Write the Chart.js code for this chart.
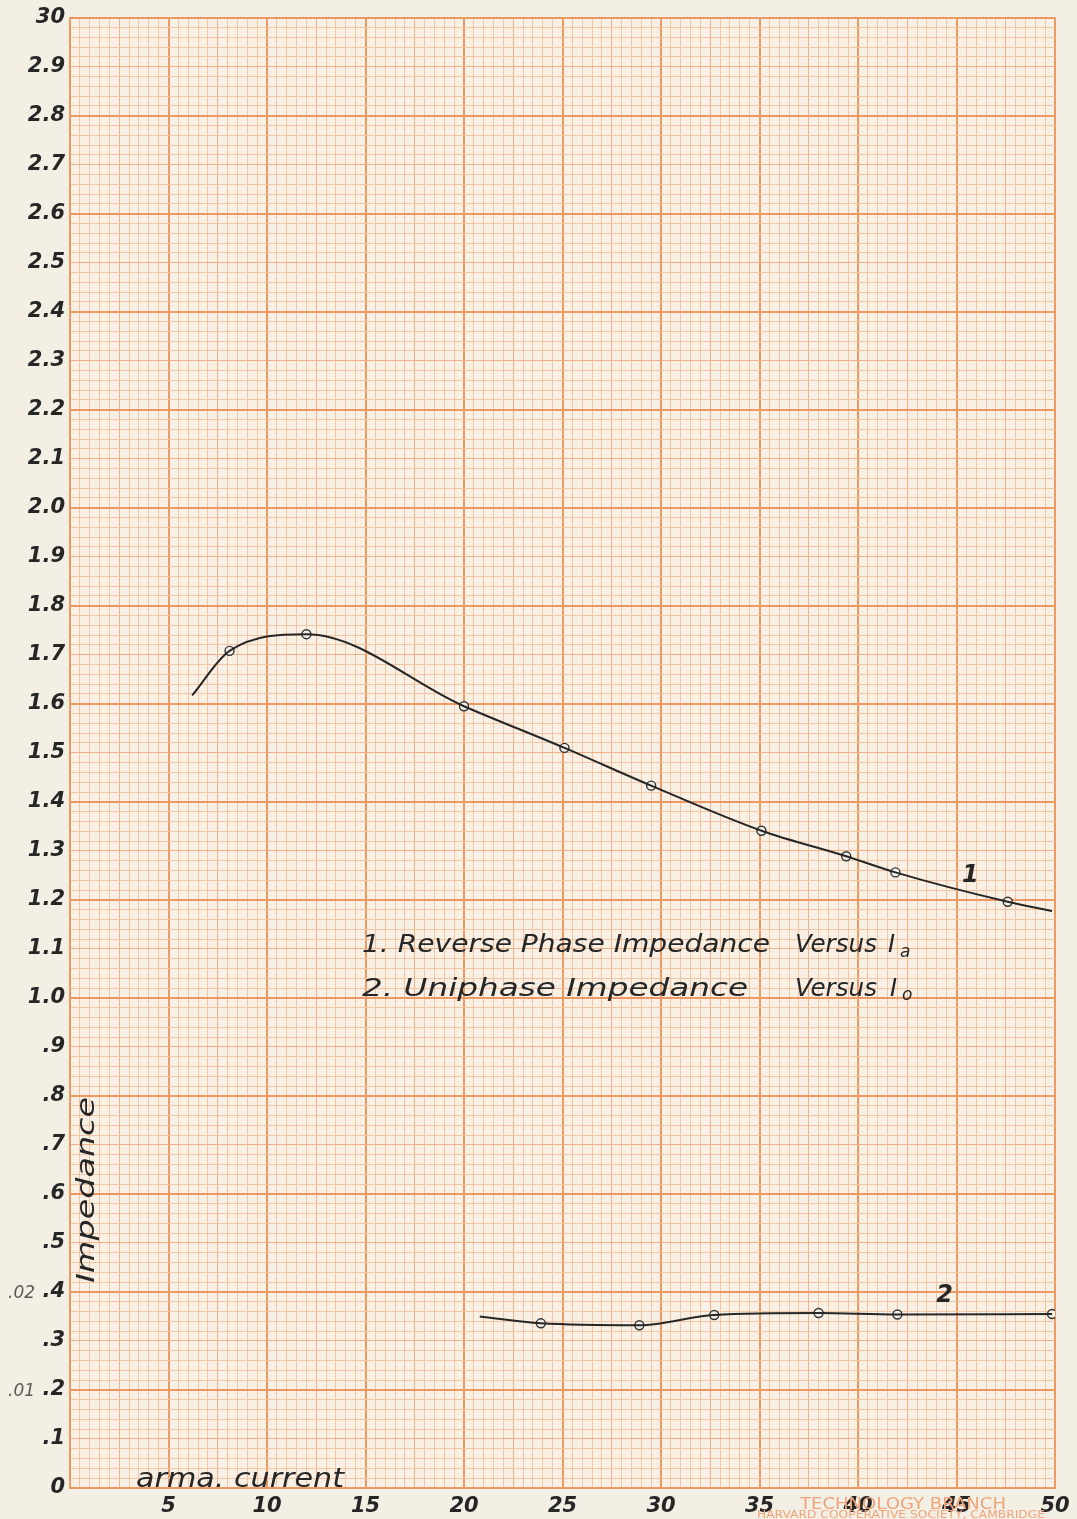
<!DOCTYPE html>
<html>
<head>
<meta charset="utf-8">
<script src="https://cdn.jsdelivr.net/npm/chart.js@4.4.1/dist/chart.umd.min.js"></script>
<style>
  html, body { margin: 0; padding: 0; background: #f3efe4; }
  canvas { display: block; }
</style>
</head>
<body>
<canvas id="c" width="1077" height="1519"></canvas>
<script>
// ---------- data ----------
// Curve 1: Reverse phase impedance vs Ia (measured points)
const curve1X = [8.1, 12.0, 20.0, 25.1, 29.5, 35.1, 39.4, 41.9, 47.6];
const curve1Y = [1.708, 1.742, 1.595, 1.510, 1.433, 1.341, 1.289, 1.256, 1.196];
// Ends of the drawn curve 1 (no marker)
const curve1EndsX = [6.2, 49.85];
const curve1EndsY = [1.617, 1.177];

// Curve 2: Uniphase impedance vs Io (measured points)
const curve2X = [23.9, 28.9, 32.7, 38.0, 42.0, 49.85];
const curve2Y = [0.336, 0.332, 0.353, 0.357, 0.354, 0.355];
// Start of the drawn curve 2 (no marker)
const curve2StartX = [20.8];
const curve2StartY = [0.350];

// Axis tick labels (as written on the sheet)
const xTickValues = [5, 10, 15, 20, 25, 30, 35, 40, 45, 50];
const xTickLabels = ['5', '10', '15', '20', '25', '30', '35', '40', '45', '50'];
const yTickLabels = ['0', '.1', '.2', '.3', '.4', '.5', '.6', '.7', '.8', '.9',
  '1.0', '1.1', '1.2', '1.3', '1.4', '1.5', '1.6', '1.7', '1.8', '1.9',
  '2.0', '2.1', '2.2', '2.3', '2.4', '2.5', '2.6', '2.7', '2.8', '2.9', '30'];
// Secondary scale marks written at the left of the y axis
const secondaryTickValues = [0.4, 0.2];
const secondaryTickLabels = ['.02', '.01'];

// Text
const legendLine1 = ['1. Reverse Phase Impedance', 'Versus', 'I', 'a'];
const legendLine2 = ['2. Uniphase Impedance', 'Versus', 'I', 'o'];
const curveLabels = [{ text: '1', x: 45.7, y: 1.25 }, { text: '2', x: 44.4, y: 0.392 }];
const yTitle = 'Impedance';
const xTitle = 'arma. current';

// ---------- build datasets ----------
function pts(xs, ys) { return xs.map((x, i) => ({ x: x, y: ys[i] })); }
const curve1Line = [].concat(
  pts([curve1EndsX[0]], [curve1EndsY[0]]),
  pts(curve1X, curve1Y),
  pts([curve1EndsX[1]], [curve1EndsY[1]])
);
const curve2Line = [].concat(pts(curve2StartX, curve2StartY), pts(curve2X, curve2Y));

const INK = '#262626';
const MINOR = '#f5c4a2';
const MEDIUM = '#f2b088';
const MAJOR = '#ec9964';
const FONT = '"DejaVu Sans", sans-serif';

const lineStyle = {
  type: 'line', showLine: true, borderColor: INK, borderWidth: 2,
  pointRadius: 0, cubicInterpolationMode: 'monotone', fill: false
};
const markerStyle = {
  type: 'scatter', showLine: false, pointRadius: 4.5, pointHoverRadius: 4.5,
  pointBackgroundColor: '#f2efe7', pointBorderColor: '#333', pointBorderWidth: 1.4
};

function fitText(ctx, text, x, y, width) {
  const w = ctx.measureText(text).width;
  ctx.save();
  ctx.translate(x, y);
  ctx.scale(width / w, 1);
  ctx.fillText(text, 0, 0);
  ctx.restore();
}

const paperPlugin = {
  id: 'paper',
  beforeDraw(chart) {
    const { ctx, chartArea: a } = chart;
    ctx.save();
    ctx.fillStyle = '#f3efe4';
    ctx.fillRect(0, 0, chart.width, chart.height);
    ctx.fillStyle = '#f8f0e4';
    ctx.fillRect(a.left, a.top, a.right - a.left, a.bottom - a.top);
    ctx.restore();
  },
  afterDraw(chart) {
    const { ctx, chartArea: a } = chart;
    const xs = chart.scales.x, ys = chart.scales.y;
    ctx.save();
    ctx.fillStyle = INK;
    ctx.textBaseline = 'alphabetic';
    ctx.textAlign = 'left';

    // legend notes
    ctx.font = 'italic 24px ' + FONT;
    fitText(ctx, legendLine1[0], 362, 952, 408);
    fitText(ctx, legendLine1[1], 795, 952, 82);
    ctx.fillText(legendLine1[2], 888, 952);
    ctx.font = 'italic 17px ' + FONT;
    ctx.fillText(legendLine1[3], 900, 957);
    ctx.font = 'italic 24px ' + FONT;
    fitText(ctx, legendLine2[0], 362, 996, 386);
    fitText(ctx, legendLine2[1], 795, 996, 82);
    ctx.fillText(legendLine2[2], 890, 996);
    ctx.font = 'italic 17px ' + FONT;
    ctx.fillText(legendLine2[3], 902, 1000);

    // curve labels
    ctx.font = 'italic bold 24px ' + FONT;
    ctx.textAlign = 'center';
    ctx.textBaseline = 'middle';
    curveLabels.forEach(l => ctx.fillText(l.text, xs.getPixelForValue(l.x), ys.getPixelForValue(l.y)));

    // y title (inside the grid)
    ctx.save();
    ctx.translate(a.left + 18, 1190);
    ctx.rotate(-Math.PI / 2);
    ctx.font = 'italic 24px ' + FONT;
    ctx.textAlign = 'left';
    ctx.textBaseline = 'middle';
    fitText(ctx, yTitle, -93, 0, 186);
    ctx.restore();

    // x title
    ctx.font = 'italic 26px ' + FONT;
    ctx.textAlign = 'left';
    ctx.textBaseline = 'alphabetic';
    fitText(ctx, xTitle, 136, a.bottom - 1, 208);

    // secondary scale marks
    ctx.font = 'italic 17px ' + FONT;
    ctx.fillStyle = '#5a5a5a';
    ctx.textAlign = 'left';
    ctx.textBaseline = 'middle';
    secondaryTickValues.forEach((v, i) => {
      ctx.fillText(secondaryTickLabels[i], 8, ys.getPixelForValue(v) + 2);
    });

    // paper maker's imprint
    ctx.fillStyle = '#f0a479';
    ctx.font = '15px ' + FONT;
    ctx.textAlign = 'left';
    ctx.textBaseline = 'alphabetic';
    fitText(ctx, 'TECHNOLOGY BRANCH', 800, 1509, 206);
    ctx.font = '10px ' + FONT;
    fitText(ctx, 'HARVARD COOPERATIVE SOCIETY, CAMBRIDGE', 757, 1518, 288);
    ctx.restore();
  }
};

function gridColor(k, medium, major) {
  if (k % major === 0) return MAJOR;
  if (k % medium === 0) return MEDIUM;
  return MINOR;
}
function gridWidth(k, medium, major) {
  if (k % major === 0) return 2;
  return 1;
}

new Chart(document.getElementById('c'), {
  data: {
    datasets: [
      Object.assign({ label: 'Curve 1 line', data: curve1Line }, lineStyle),
      Object.assign({ label: 'Curve 1 points', data: pts(curve1X, curve1Y) }, markerStyle),
      Object.assign({ label: 'Curve 2 line', data: curve2Line }, lineStyle),
      Object.assign({ label: 'Curve 2 points', data: pts(curve2X, curve2Y) }, markerStyle)
    ]
  },
  options: {
    responsive: false,
    animation: false,
    devicePixelRatio: 1,
    layout: { padding: { top: 17, right: 22, left: 0, bottom: 0 } },
    plugins: { legend: { display: false }, tooltip: { enabled: false } },
    scales: {
      x: {
        type: 'linear', min: 0, max: 50,
        afterBuildTicks(scale) {
          const t = [];
          for (let i = 0; i <= 100; i++) t.push({ value: i / 2 });
          scale.ticks = t;
        },
        afterFit(scale) { scale.height = 31; },
        ticks: {
          autoSkip: false, maxRotation: 0, minRotation: 0, padding: 6,
          color: INK, font: { family: FONT, size: 21, style: 'italic', weight: 'bold' },
          callback(value) {
            const i = xTickValues.indexOf(Math.round(value * 2) / 2);
            return i >= 0 ? xTickLabels[i] : '';
          }
        },
        grid: {
          drawTicks: false,
          color: c => gridColor(Math.round(c.tick.value * 2), 5, 10),
          lineWidth: c => gridWidth(Math.round(c.tick.value * 2), 5, 10)
        },
        border: { display: true, color: MAJOR, width: 2 }
      },
      y: {
        type: 'linear', min: 0, max: 3,
        afterBuildTicks(scale) {
          const t = [];
          for (let i = 0; i <= 150; i++) t.push({ value: i / 50 });
          scale.ticks = t;
        },
        afterFit(scale) { scale.width = 70; },
        ticks: {
          autoSkip: false, padding: 5,
          color: INK, font: { family: FONT, size: 21, style: 'italic', weight: 'bold' },
          callback(value) {
            const k = Math.round(value * 50);
            return k % 5 === 0 ? yTickLabels[k / 5] : '';
          }
        },
        grid: {
          drawTicks: false,
          color: c => gridColor(Math.round(c.tick.value * 50), 5, 10),
          lineWidth: c => gridWidth(Math.round(c.tick.value * 50), 5, 10)
        },
        border: { display: true, color: MAJOR, width: 2 }
      }
    }
  },
  plugins: [paperPlugin]
});
</script>
</body>
</html>
